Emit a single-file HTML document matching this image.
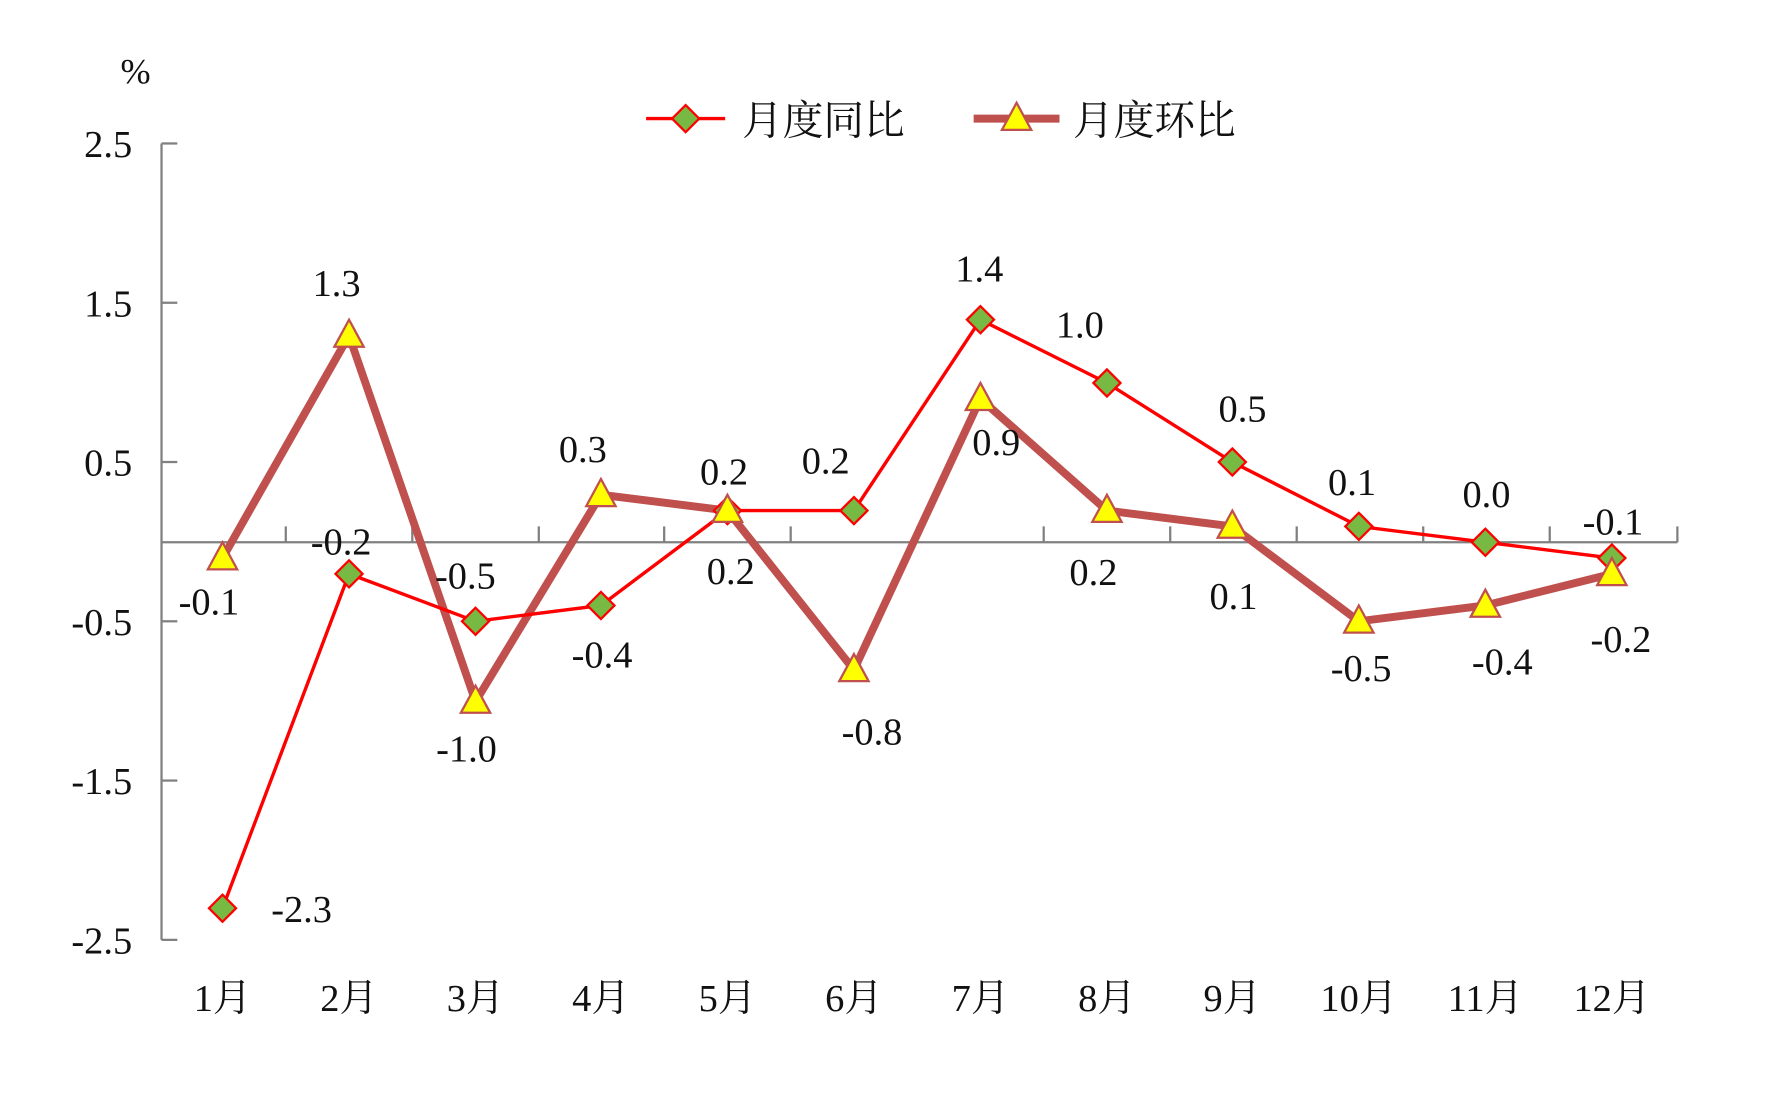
<!DOCTYPE html>
<html><head><meta charset="utf-8"><style>html,body{margin:0;padding:0;background:#fff}svg{display:block}</style></head>
<body>
<svg width="1770" height="1098" viewBox="0 0 1567 972" preserveAspectRatio="none" xmlns="http://www.w3.org/2000/svg" font-family="'Liberation Serif','Noto Serif CJK SC',serif">
<defs>
<g id="d"><polygon points="0,-12 12,0 0,12 -12,0" fill="#77b943" stroke="#ff0000" stroke-width="2"/></g>
<g id="t"><polygon points="0,-14 13,10 -13,10" fill="#ffff00" stroke="#c0504d" stroke-width="2"/></g>
</defs>
<text x="120" y="74" font-size="32" text-anchor="middle" fill="#111">%</text>
<g stroke="#808080" stroke-width="2" fill="none">
<line x1="143" y1="127" x2="143" y2="832"/>
<line x1="143" y1="127" x2="157" y2="127"/>
<line x1="143" y1="268" x2="157" y2="268"/>
<line x1="143" y1="409" x2="157" y2="409"/>
<line x1="143" y1="550" x2="157" y2="550"/>
<line x1="143" y1="691" x2="157" y2="691"/>
<line x1="143" y1="832" x2="157" y2="832"/>
<line x1="143" y1="480" x2="1485" y2="480"/>
<path d="M253,480V466M365,480V466M477,480V466M588,480V466M700,480V466M812,480V466M924,480V466M1036,480V466M1148,480V466M1260,480V466M1372,480V466M1485,480V466"/>
</g>
<g font-size="34" fill="#111" text-anchor="end">
<text x="117" y="139">2.5</text><text x="117" y="280">1.5</text><text x="117" y="421">0.5</text>
<text x="117" y="562">-0.5</text><text x="117" y="703">-1.5</text><text x="117" y="844">-2.5</text>
</g>
<g font-size="34" fill="#111" text-anchor="middle">
<text x="197" y="895">1月</text><text x="309" y="895">2月</text><text x="421" y="895">3月</text><text x="532" y="895">4月</text>
<text x="644" y="895">5月</text><text x="756" y="895">6月</text><text x="868" y="895">7月</text><text x="980" y="895">8月</text>
<text x="1091" y="895">9月</text><text x="1203" y="895">10月</text><text x="1315" y="895">11月</text><text x="1427" y="895">12月</text>
</g>
<polyline fill="none" stroke="#c0504d" stroke-width="7" points="197,494 309,297 421,621 532,438 644,452 756,593 868,353 980,452 1091,466 1203,550 1315,536 1427,508"/>
<polyline fill="none" stroke="#ff0000" stroke-width="3" points="197,804 309,508 421,550 532,536 644,452 756,452 868,283 980,339 1091,409 1203,466 1315,480 1427,494"/>
<g>
<use href="#d" x="197" y="804"/><use href="#d" x="309" y="508"/><use href="#d" x="421" y="550"/><use href="#d" x="532" y="536"/>
<use href="#d" x="644" y="452"/><use href="#d" x="756" y="452"/><use href="#d" x="868" y="283"/><use href="#d" x="980" y="339"/>
<use href="#d" x="1091" y="409"/><use href="#d" x="1203" y="466"/><use href="#d" x="1315" y="480"/><use href="#d" x="1427" y="494"/>
</g>
<g>
<use href="#t" x="197" y="494"/><use href="#t" x="309" y="297"/><use href="#t" x="421" y="621"/><use href="#t" x="532" y="438"/>
<use href="#t" x="644" y="452"/><use href="#t" x="756" y="593"/><use href="#t" x="868" y="353"/><use href="#t" x="980" y="452"/>
<use href="#t" x="1091" y="466"/><use href="#t" x="1203" y="550"/><use href="#t" x="1315" y="536"/><use href="#t" x="1427" y="508"/>
</g>
<g font-size="34" fill="#111" text-anchor="middle">
<text x="267" y="816">-2.3</text><text x="302" y="491">-0.2</text><text x="412" y="521">-0.5</text><text x="533" y="591">-0.4</text>
<text x="641" y="429">0.2</text><text x="731" y="419">0.2</text><text x="867" y="249">1.4</text><text x="956" y="299">1.0</text>
<text x="1100" y="373">0.5</text><text x="1197" y="438">0.1</text><text x="1316" y="449">0.0</text><text x="1428" y="473">-0.1</text>
<text x="185" y="544">-0.1</text><text x="298" y="262">1.3</text><text x="413" y="674">-1.0</text><text x="516" y="409">0.3</text>
<text x="647" y="517">0.2</text><text x="772" y="659">-0.8</text><text x="882" y="403">0.9</text><text x="968" y="518">0.2</text>
<text x="1092" y="539">0.1</text><text x="1205" y="603">-0.5</text><text x="1330" y="597">-0.4</text><text x="1435" y="577">-0.2</text>
</g>
<line x1="572" y1="105" x2="642" y2="105" stroke="#ff0000" stroke-width="3"/>
<use href="#d" x="607" y="105"/>
<text x="657" y="119" font-size="36" fill="#111">月度同比</text>
<line x1="862" y1="105" x2="938" y2="105" stroke="#c0504d" stroke-width="7"/>
<use href="#t" x="900" y="105"/>
<text x="950" y="119" font-size="36" fill="#111">月度环比</text>
</svg>
</body></html>
